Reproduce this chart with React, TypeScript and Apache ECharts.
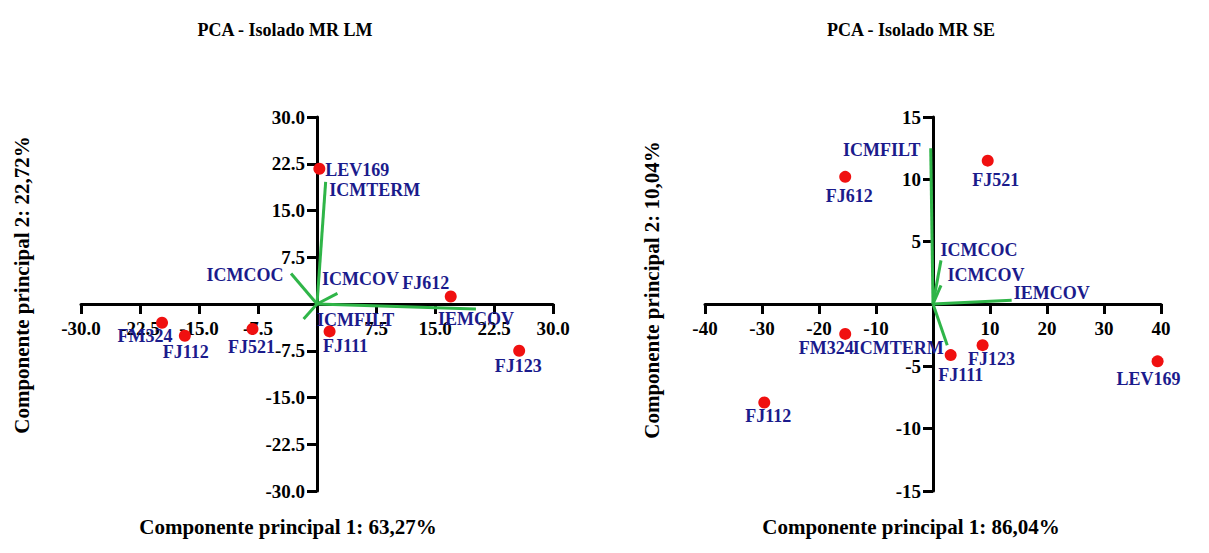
import React, { useEffect, useRef } from "react";
import * as echarts from "echarts";

// ---- Data: PCA - Isolado MR LM ----
const lmScoreNames = ["LEV169", "FJ612", "FJ123", "FJ111", "FJ521", "FJ112", "FM324"];
const lmScoreX = [0.3, 17.0, 25.7, 1.6, -8.2, -16.8, -19.7];
const lmScoreY = [21.7, 1.2, -7.5, -4.4, -4.0, -5.1, -3.0];
const lmLoadNames = ["ICMTERM", "ICMCOC", "ICMCOV", "ICMFILT", "IEMCOV"];
const lmLoadX = [1.1, -3.3, 2.6, -1.7, 20.2];
const lmLoadY = [19.6, 4.9, 1.7, -2.4, -0.8];
const lmXTicks = [-30, -22.5, -15, -7.5, 0, 7.5, 15, 22.5, 30];
const lmYTicks = [-30, -22.5, -15, -7.5, 0, 7.5, 15, 22.5, 30];

// ---- Data: PCA - Isolado MR SE ----
const seScoreNames = ["FJ521", "FJ612", "FM324", "FJ112", "FJ111", "FJ123", "LEV169"];
const seScoreX = [9.6, -15.4, -15.4, -29.6, 3.1, 8.7, 39.4];
const seScoreY = [11.5, 10.2, -2.4, -7.9, -4.1, -3.3, -4.6];
const seLoadNames = ["ICMFILT", "ICMCOC", "ICMCOV", "IEMCOV", "ICMTERM"];
const seLoadX = [-0.4, 1.4, 1.4, 13.8, 2.5];
const seLoadY = [12.5, 3.5, 1.5, 0.3, -3.3];
const seXTicks = [-40, -30, -20, -10, 0, 10, 20, 30, 40];
const seYTicks = [-15, -10, -5, 0, 5, 10, 15];

// ---- Presentation: label offsets (px, label centre relative to mark) ----
const lmScoreLabelOffset: Record<string, [number, number]> = {
  LEV169: [38, 1], FJ612: [-25, -14], FJ123: [-1, 15], FJ111: [16, 15],
  FJ521: [-1, 18], FJ112: [1, 16], FM324: [-17, 13],
};
const lmLoadLabelOffset: Record<string, [number, number]> = {
  ICMTERM: [49, 8], ICMCOC: [-46, 2], ICMCOV: [23, -14], ICMFILT: [52, 1], IEMCOV: [0, 10],
};
const seScoreLabelOffset: Record<string, [number, number]> = {
  FJ521: [8, 19], FJ612: [4, 19], FM324: [-19, 14], FJ112: [4, 14],
  FJ111: [10, 20], FJ123: [9, 14], LEV169: [-9, 18],
};
const seLoadLabelOffset: Record<string, [number, number]> = {
  ICMFILT: [-49, 2], ICMCOC: [38, -10], ICMCOV: [45, -10], IEMCOV: [40, -7], ICMTERM: [-49, 3],
};

const FONT = '"Liberation Serif", "Times New Roman", serif';
const NAVY = "#1b1b8c";
const GREEN = "#2fb548";
const RED = "#f01010";

const GRID_TOP = 117;
const GRID_H = 374;
const LM_GRID = { left: 81, width: 472 };
const SE_GRID = { left: 705, width: 456 };

function labelStyle(offset: [number, number]) {
  return {
    show: true,
    position: "inside",
    offset,
    align: "center",
    verticalAlign: "middle",
    color: NAVY,
    textBorderWidth: 0,
    textBorderColor: "transparent",
    textShadowBlur: 0,
    fontFamily: FONT,
    fontWeight: "bold",
    fontSize: 18,
  };
}

function buildSeries(
  idx: number,
  scoreNames: string[], scoreX: number[], scoreY: number[],
  loadNames: string[], loadX: number[], loadY: number[],
  scoreOff: Record<string, [number, number]>, loadOff: Record<string, [number, number]>
) {
  const series: any[] = [];
  loadNames.forEach((n, i) => {
    series.push({
      type: "line",
      xAxisIndex: idx,
      yAxisIndex: idx,
      data: [[0, 0], [loadX[i], loadY[i]]],
      showSymbol: false,
      symbol: "none",
      lineStyle: { color: GREEN, width: 3 },
      silent: true,
      z: 3,
    });
  });
  series.push({
    type: "scatter",
    xAxisIndex: idx,
    yAxisIndex: idx,
    symbolSize: 1,
    itemStyle: { color: "rgba(0,0,0,0)", opacity: 1 },
    data: loadNames.map((n, i) => ({
      name: n,
      value: [loadX[i], loadY[i]],
      label: { ...labelStyle(loadOff[n] || [0, 0]), formatter: n },
    })),
    z: 4,
  });
  series.push({
    type: "scatter",
    xAxisIndex: idx,
    yAxisIndex: idx,
    symbolSize: 12,
    itemStyle: { color: RED, opacity: 1 },
    data: scoreNames.map((n, i) => ({
      name: n,
      value: [scoreX[i], scoreY[i]],
      label: { ...labelStyle(scoreOff[n] || [0, 0]), formatter: n },
    })),
    z: 5,
  });
  return series;
}

function axisCommon(decimals: number, margin: number) {
  return {
    type: "value",
    axisLine: { onZero: false, lineStyle: { color: "#000", width: 3 } },
    axisTick: { show: true, length: 10, lineStyle: { color: "#000", width: 3 } },
    splitLine: { show: false },
    axisLabel: {
      color: "#000",
      fontFamily: FONT,
      fontWeight: "bold",
      fontSize: 19,
      margin,
      formatter: (v: number) => (Math.abs(v) < 1e-9 ? "" : v.toFixed(decimals)),
    },
  };
}

// pixel offset that moves an edge axis onto the other axis' zero
function zeroOffsetFromMin(min: number, max: number, size: number) {
  return -size * (0 - min) / (max - min);
}

export default function App() {
  const ref = useRef<HTMLDivElement>(null);
  useEffect(() => {
    document.body.style.margin = "0";
    if (!ref.current) return;
    const chart = echarts.init(ref.current, undefined, { renderer: "svg" });
    const lmXMin = lmXTicks[0], lmXMax = lmXTicks[lmXTicks.length - 1];
    const lmYMin = lmYTicks[0], lmYMax = lmYTicks[lmYTicks.length - 1];
    const seXMin = seXTicks[0], seXMax = seXTicks[seXTicks.length - 1];
    const seYMin = seYTicks[0], seYMax = seYTicks[seYTicks.length - 1];
    const lmInt = lmXTicks[1] - lmXTicks[0];
    const seXInt = seXTicks[1] - seXTicks[0];
    const seYInt = seYTicks[1] - seYTicks[0];
    const textBase = { fontFamily: FONT, fontWeight: "bold", fill: "#000" };
    chart.setOption({
      animation: false,
      backgroundColor: "#fff",
      grid: [
        { left: LM_GRID.left, top: GRID_TOP, width: LM_GRID.width, height: GRID_H },
        { left: SE_GRID.left, top: GRID_TOP, width: SE_GRID.width, height: GRID_H },
      ],
      xAxis: [
        { ...axisCommon(1, 15), gridIndex: 0, position: "bottom", min: lmXMin, max: lmXMax, interval: lmInt,
          offset: zeroOffsetFromMin(lmYMin, lmYMax, GRID_H) },
        { ...axisCommon(0, 15), gridIndex: 1, position: "bottom", min: seXMin, max: seXMax, interval: seXInt,
          offset: zeroOffsetFromMin(seYMin, seYMax, GRID_H) },
      ],
      yAxis: [
        { ...axisCommon(1, 12), gridIndex: 0, position: "left", min: lmYMin, max: lmYMax, interval: lmInt,
          offset: zeroOffsetFromMin(lmXMin, lmXMax, LM_GRID.width) },
        { ...axisCommon(0, 12), gridIndex: 1, position: "left", min: seYMin, max: seYMax, interval: seYInt,
          offset: zeroOffsetFromMin(seXMin, seXMax, SE_GRID.width) },
      ],
      graphic: [
        { type: "text", x: 285, y: 30, style: { ...textBase, text: "PCA - Isolado MR LM", fontSize: 18, textAlign: "center", textVerticalAlign: "middle" } },
        { type: "text", x: 911, y: 30, style: { ...textBase, text: "PCA - Isolado MR SE", fontSize: 18, textAlign: "center", textVerticalAlign: "middle" } },
        { type: "text", x: 288, y: 527, style: { ...textBase, text: "Componente principal 1: 63,27%", fontSize: 21, textAlign: "center", textVerticalAlign: "middle" } },
        { type: "text", x: 911, y: 527, style: { ...textBase, text: "Componente principal 1: 86,04%", fontSize: 21, textAlign: "center", textVerticalAlign: "middle" } },
        { type: "text", x: 22, y: 285, rotation: Math.PI / 2, style: { ...textBase, text: "Componente principal 2: 22,72%", fontSize: 21, textAlign: "center", textVerticalAlign: "middle" } },
        { type: "text", x: 652, y: 290, rotation: Math.PI / 2, style: { ...textBase, text: "Componente principal 2: 10,04%", fontSize: 21, textAlign: "center", textVerticalAlign: "middle" } },
      ],
      series: [
        ...buildSeries(0, lmScoreNames, lmScoreX, lmScoreY, lmLoadNames, lmLoadX, lmLoadY, lmScoreLabelOffset, lmLoadLabelOffset),
        ...buildSeries(1, seScoreNames, seScoreX, seScoreY, seLoadNames, seLoadX, seLoadY, seScoreLabelOffset, seLoadLabelOffset),
      ],
    });
    return () => chart.dispose();
  }, []);
  return <div ref={ref} style={{ width: 1209, height: 553 }} />;
}
